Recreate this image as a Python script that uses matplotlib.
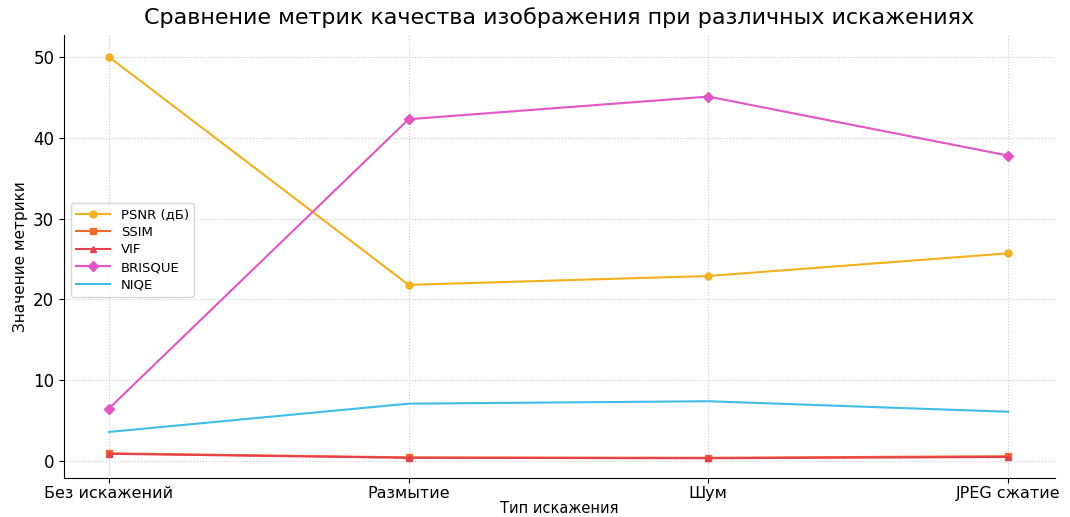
import matplotlib
matplotlib.use("Agg")
import matplotlib.pyplot as plt

categories = ["Без искажений", "Размытие", "Шум", "JPEG сжатие"]
psnr = [50.0, 21.8, 22.9, 25.7]
ssim = [0.95, 0.45, 0.40, 0.60]
vif = [0.90, 0.40, 0.35, 0.50]
brisque = [6.5, 42.3, 45.1, 37.8]
niqe = [3.6, 7.1, 7.4, 6.1]

fig, ax = plt.subplots(figsize=(10.7, 5.17), dpi=100)
fig.subplots_adjust(left=0.0598, right=0.986, top=0.932, bottom=0.0754)

x = range(len(categories))
ax.plot(x, psnr, marker="o", color="#F4B01B", label="PSNR (дБ)", lw=1.5, ms=5)
ax.plot(x, ssim, marker="s", color="#F06A2A", label="SSIM", lw=1.5, ms=5)
ax.plot(x, vif, marker="^", color="#E8404A", label="VIF", lw=1.5, ms=5)
ax.plot(x, brisque, marker="D", color="#E554C4", label="BRISQUE", lw=1.5, ms=5)
ax.plot(x, niqe, color="#3DBDE8", label="NIQE", lw=1.5)

ax.set_xticks(list(x))
ax.set_xticklabels(categories, fontsize=11.5)
ax.set_yticks([0, 10, 20, 30, 40, 50])
ax.tick_params(axis="y", labelsize=12)
ax.tick_params(axis="x", pad=2)
ax.set_xlim(-0.15, 3.157)
ax.set_ylim(-2.1, 52.7)
ax.grid(True, linestyle=":", color="#cccccc", lw=0.8)
for s in ["top", "right"]:
    ax.spines[s].set_visible(False)
ax.set_title("Сравнение метрик качества изображения при различных искажениях", fontsize=16, pad=8)
ax.set_xlabel("Тип искажения", fontsize=10.5, labelpad=0)
ax.set_ylabel("Значение метрики", fontsize=11)
ax.legend(loc="center left", bbox_to_anchor=(0.0, 0.515), fontsize=9.5, frameon=True,
          handlelength=2.6, labelspacing=0.35)

fig.savefig("out.png", dpi=100)
